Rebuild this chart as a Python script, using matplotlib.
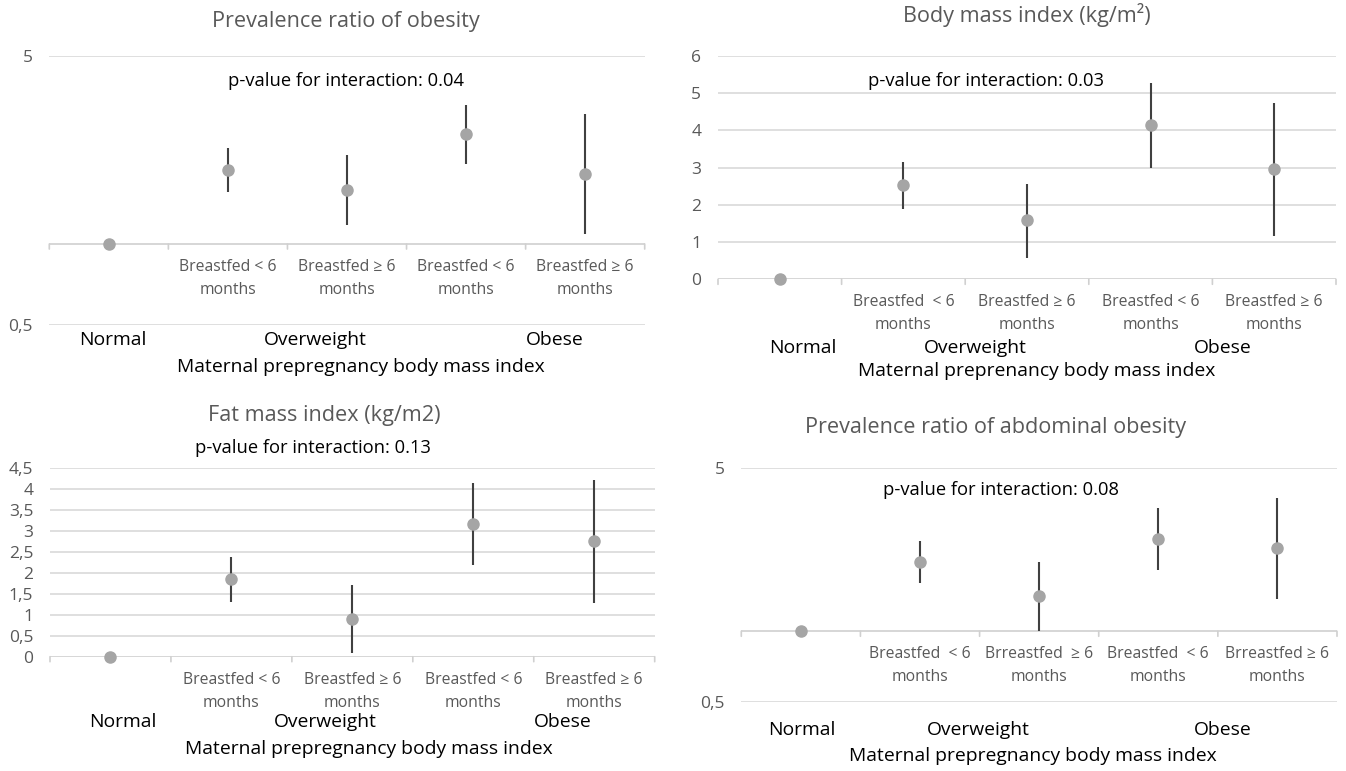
import numpy as np
import matplotlib
matplotlib.use('Agg')
import matplotlib.pyplot as plt
from matplotlib.ticker import FuncFormatter, NullLocator

plt.rcParams['font.family'] = ['Open Sans', 'DejaVu Sans']

# ---- data ----
categories = ['Normal', 'OW BF<6', 'OW BF>=6', 'Ob BF<6', 'Ob BF>=6']

obesity_pr = [1.0, 1.88, 1.59, 2.57, 1.82]
obesity_lo = [1.0, 1.56, 1.18, 1.98, 1.09]
obesity_hi = [1.0, 2.28, 2.14, 3.29, 3.04]

bmi = [0.0, 2.53, 1.58, 4.14, 2.96]
bmi_lo = [0.0, 1.89, 0.58, 2.98, 1.17]
bmi_hi = [0.0, 3.16, 2.56, 5.28, 4.73]

fmi = [0.0, 1.85, 0.89, 3.17, 2.75]
fmi_lo = [0.0, 1.31, 0.08, 2.18, 1.27]
fmi_hi = [0.0, 2.37, 1.71, 4.13, 4.21]

abd_pr = [1.0, 1.98, 1.41, 2.47, 2.27]
abd_lo = [1.0, 1.61, 1.00, 1.82, 1.38]
abd_hi = [1.0, 2.44, 1.97, 3.35, 3.70]

labels_a = ['', 'Breastfed < 6\nmonths', 'Breastfed \u2265 6\nmonths',
            'Breastfed < 6\nmonths', 'Breastfed \u2265 6\nmonths']
labels_b = ['', 'Breastfed  < 6\nmonths', 'Breastfed \u2265 6\nmonths',
            'Breastfed < 6\nmonths', 'Breastfed \u2265 6\nmonths']
labels_d = ['', 'Breastfed  < 6\nmonths', 'Brreastfed  \u2265 6\nmonths',
            'Breastfed  < 6\nmonths', 'Brreastfed \u2265 6\nmonths']
groups = ['Normal', 'Overweight', 'Obese']

W, H = 1346, 771
GRID = '#d9d9d9'
GREY_TXT = '#595959'
DOT = '#a5a5a5'
BAR = '#404040'


def fx(x):
    return x / W


def fy(y):
    return 1 - y / H


def make_ax(fig, left, right, top, bottom):
    return fig.add_axes([fx(left), fy(bottom), (right - left) / W, (bottom - top) / H])


def panel(ax, vals, lo, hi, base, ticklabels, log=False, yticks=None, ylim=None):
    x = np.arange(len(vals))
    vals = np.array(vals)
    err = [vals - np.array(lo), np.array(hi) - vals]
    if log:
        ax.set_yscale('log')
    ax.set_ylim(*ylim)
    ax.set_xlim(-0.5, len(vals) - 0.5)
    for s in ax.spines.values():
        s.set_visible(False)
    ax.set_yticks(yticks)
    ax.yaxis.set_minor_locator(NullLocator())
    ax.yaxis.set_major_formatter(FuncFormatter(lambda v, p: ('%g' % v).replace('.', ',')))
    ax.tick_params(axis='y', length=0, pad=12, labelsize=12.5, labelcolor=GREY_TXT)
    ax.set_xticks([])
    for t in yticks:
        if t != base:
            ax.axhline(t, color=GRID, lw=1.2, zorder=0)
    ax.axhline(base, color='#d0d0d0', lw=1.2, zorder=0)
    # small separators between categories, hanging under the axis line
    for b in np.arange(len(vals) + 1) - 0.5:
        ax.annotate('', xy=(b, base), xytext=(0, -5), textcoords='offset pixels',
                    arrowprops=dict(arrowstyle='-', color='#d0d0d0', lw=1.2,
                                    shrinkA=0, shrinkB=0),
                    annotation_clip=False)
    ax.errorbar(x, vals, yerr=err, fmt='o', color=DOT, markersize=8,
                ecolor=BAR, elinewidth=1.5, capsize=0, zorder=3, clip_on=False)
    for i, lab in enumerate(ticklabels):
        ax.annotate(lab, xy=(i, base), xytext=(0, -34.5), textcoords='offset pixels',
                    ha='center', va='center', fontsize=11.3, color=GREY_TXT,
                    linespacing=1.6, annotation_clip=False)


fig = plt.figure(figsize=(W / 100, H / 100), dpi=100)

ax1 = make_ax(fig, 49.3, 644.7, 56, 325)
panel(ax1, obesity_pr, obesity_lo, obesity_hi, 1.0, labels_a, log=True,
      yticks=[0.5, 5], ylim=(0.5, 5))
ax2 = make_ax(fig, 718, 1336, 56, 279.3)
panel(ax2, bmi, bmi_lo, bmi_hi, 0.0, labels_b, yticks=list(range(0, 7)), ylim=(0, 6))
ax3 = make_ax(fig, 50, 654.7, 467.7, 656.7)
panel(ax3, fmi, fmi_lo, fmi_hi, 0.0, labels_a,
      yticks=list(np.arange(0, 4.51, 0.5)), ylim=(0, 4.5))
ax4 = make_ax(fig, 741.3, 1337, 467.7, 701.7)
panel(ax4, abd_pr, abd_lo, abd_hi, 1.0, labels_d, log=True,
      yticks=[0.5, 5], ylim=(0.5, 5))

titles = [('Prevalence ratio of obesity', 346.2, 21),
          ('Body mass index (kg/m\u00b2)', 1026.7, 15),
          ('Fat mass index (kg/m2)', 324, 415.7),
          ('Prevalence ratio of abdominal obesity', 995.5, 427)]
for t, x, y in titles:
    fig.text(fx(x), fy(y), t, ha='center', va='center', fontsize=15.6, color=GREY_TXT)

pvals = [('0.04', 345.7, 81), ('0.03', 985.8, 81), ('0.13', 313.2, 448.3), ('0.08', 1000.7, 490)]
for p, x, y in pvals:
    fig.text(fx(x), fy(y), 'p-value for interaction: ' + p, ha='center', va='center',
             fontsize=13.2, color='black')

group_pos = [(340, [113.3, 315.7, 554.3]),
             (348.3, [802.7, 975.3, 1222.7]),
             (722.3, [123, 325.3, 563]),
             (730, [802.2, 978.7, 1222.3])]
for y, xs in group_pos:
    for g, x in zip(groups, xs):
        fig.text(fx(x), fy(y), g, ha='center', va='center', fontsize=13.9, color='black')

xtitles = [('Maternal prepregnancy body mass index', 360.7, 366.7),
           ('Maternal preprenancy body mass index', 1036.3, 370.7),
           ('Maternal prepregnancy body mass index', 369.3, 749.3),
           ('Maternal prepregnancy body mass index', 1033.2, 755.7)]
for t, x, y in xtitles:
    fig.text(fx(x), fy(y), t, ha='center', va='center', fontsize=13.9, color='black')

fig.savefig('out.png', dpi=100)
